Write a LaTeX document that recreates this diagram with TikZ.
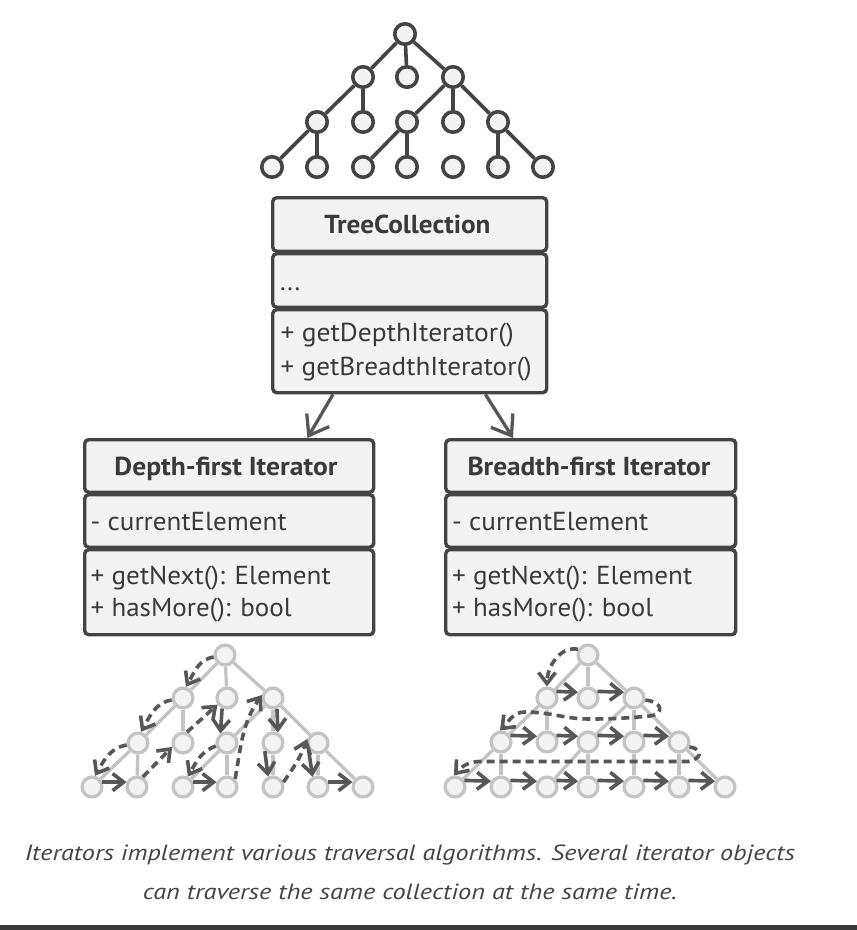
\documentclass[tikz,border=0pt]{standalone}
\usepackage{fontspec}
\setmainfont{PT Sans}
\usetikzlibrary{arrows.meta,calc}
\definecolor{stroke}{HTML}{444444}
\definecolor{boxfill}{HTML}{F3F3F3}
\definecolor{txt}{HTML}{3A3A3A}
\definecolor{lgray}{HTML}{C4C4C4}
\definecolor{arr}{HTML}{575757}
\definecolor{captxt}{HTML}{444444}
\definecolor{barcol}{HTML}{3A3A3A}
\newcommand\fitw[2]{\resizebox{#1}{\height}{#2}}
\tikzset{
  x=1pt,y=1pt,
  tnode/.style={circle,draw=stroke,fill=boxfill,line width=3.6pt,minimum size=20.5pt,inner sep=0pt},
  tedge/.style={draw=stroke,line width=3.6pt},
  lnode/.style={circle,draw=lgray,fill=boxfill,line width=3.3pt,minimum size=19.8pt,inner sep=0pt},
  ledge/.style={draw=lgray,line width=3.3pt},
  compart/.style={draw=stroke,fill=boxfill,line width=3.4pt,rounded corners=4pt,inner sep=0pt,anchor=north west},
  boldtxt/.style={font=\fontsize{26}{30}\selectfont\bfseries,text=txt,anchor=base,inner sep=0pt},
  regtxt/.style={font=\fontsize{26}{30}\selectfont,text=txt,anchor=base west,inner sep=0pt},
  captext/.style={font=\fontsize{22}{26}\selectfont\itshape,text=captxt,anchor=base,inner sep=0pt},
  uml/.style={draw=arr,line width=3.3pt,-{Straight Barb[length=18pt,width=26pt]}},
  travs/.style={draw=arr,line width=3.6pt,-{Straight Barb[length=11pt,width=17pt]}},
  trav/.style={travs,dash pattern=on 8pt off 5pt},
}
\begin{document}
\begin{tikzpicture}
\fill[white] (0,0) rectangle (857,-930);
\useasboundingbox (0,0) rectangle (857,-930);

% ---------- top tree ----------
\node[tnode] (t0) at (405,-34) {};
\node[tnode] (t1a) at (363,-77) {};
\node[tnode] (t1b) at (407,-77) {};
\node[tnode] (t1c) at (453,-77) {};
\node[tnode] (t2a) at (317,-122) {};
\node[tnode] (t2b) at (363,-122) {};
\node[tnode] (t2c) at (407,-122) {};
\node[tnode] (t2d) at (453,-122) {};
\node[tnode] (t2e) at (498,-122) {};
\node[tnode] (t3a) at (272,-167) {};
\node[tnode] (t3b) at (317,-167) {};
\node[tnode] (t3c) at (363,-167) {};
\node[tnode] (t3d) at (407,-167) {};
\node[tnode] (t3e) at (453,-167) {};
\node[tnode] (t3f) at (498,-167) {};
\node[tnode] (t3g) at (543,-167) {};
\foreach \a/\b in {t0/t1a,t0/t1b,t0/t1c,t1a/t2a,t1a/t2b,t1c/t2c,t1c/t2d,t1c/t2e,
  t2a/t3a,t2a/t3b,t2c/t3c,t2c/t3d,t2e/t3f,t2e/t3g}
  \draw[tedge] (\a) -- (\b);

% ---------- TreeCollection ----------
\node[compart,minimum width=274pt,minimum height=53.5pt] (tc1) at (271,-196) {};
\node[compart,minimum width=274pt,minimum height=53.5pt] (tc2) at (271,-252) {};
\node[compart,minimum width=274pt,minimum height=83pt] (tc3) at (271,-308) {};
\node[boldtxt] (tct) at (407.5,-233.3) {\fitw{166pt}{TreeCollection}};
\node[regtxt] (tca) at (280,-290) {...};
\node[regtxt] (tcm1) at (280.5,-341.7) {\fitw{233pt}{+ getDepthIterator()}};
\node[regtxt] (tcm2) at (280.5,-375) {\fitw{251pt}{+ getBreadthIterator()}};

% ---------- Depth-first Iterator ----------
\node[compart,minimum width=289pt,minimum height=52.5pt] (df1) at (83,-438) {};
\node[compart,minimum width=289pt,minimum height=52.5pt] (df2) at (83,-493) {};
\node[compart,minimum width=289pt,minimum height=85pt] (df3) at (83,-548) {};
\node[boldtxt] (dft) at (226,-475) {\fitw{223pt}{Depth-first Iterator}};
\node[regtxt] (dfa) at (90.5,-530) {\fitw{196pt}{- currentElement}};
\node[regtxt] (dfm1) at (90.5,-584) {\fitw{240pt}{+ getNext(): Element}};
\node[regtxt] (dfm2) at (90.5,-616.7) {\fitw{201pt}{+ hasMore(): bool}};

% ---------- Breadth-first Iterator ----------
\node[compart,minimum width=290pt,minimum height=52.5pt] (bf1) at (444,-438) {};
\node[compart,minimum width=290pt,minimum height=52.5pt] (bf2) at (444,-493) {};
\node[compart,minimum width=290pt,minimum height=85pt] (bf3) at (444,-548) {};
\node[boldtxt] (bft) at (589,-475) {\fitw{243pt}{Breadth-first Iterator}};
\node[regtxt] (bfa) at (452,-530) {\fitw{196pt}{- currentElement}};
\node[regtxt] (bfm1) at (452,-584) {\fitw{240pt}{+ getNext(): Element}};
\node[regtxt] (bfm2) at (452,-616.7) {\fitw{201pt}{+ hasMore(): bool}};

% ---------- UML arrows ----------
\draw[uml] ($(tc3.south west)+(62,0)$) -- ($(df1.north east)+(-68,0)$);
\draw[uml] ($(tc3.south east)+(-63,0)$) -- ($(bf1.north west)+(69,0)$);

% ---------- depth-first tree ----------
\node[lnode] (d0) at (225,-655) {};
\node[lnode] (d1a) at (183,-698) {};
\node[lnode] (d1b) at (227,-698) {};
\node[lnode] (d1c) at (273,-698) {};
\node[lnode] (d2a) at (138,-743) {};
\node[lnode] (d2b) at (183,-743) {};
\node[lnode] (d2c) at (227,-743) {};
\node[lnode] (d2d) at (273,-743) {};
\node[lnode] (d2e) at (318,-743) {};
\node[lnode] (d3a) at (92,-787) {};
\node[lnode] (d3b) at (137,-787) {};
\node[lnode] (d3c) at (183,-787) {};
\node[lnode] (d3d) at (227,-787) {};
\node[lnode] (d3e) at (273,-787) {};
\node[lnode] (d3f) at (318,-787) {};
\node[lnode] (d3g) at (363,-787) {};
\foreach \a/\b in {d0/d1a,d0/d1b,d0/d1c,d1a/d2a,d1a/d2b,d1c/d2c,d1c/d2d,d1c/d2e,
  d2a/d3a,d2a/d3b,d2c/d3c,d2c/d3d,d2d/d3e,d2e/d3f,d2e/d3g}
  \draw[ledge] (\a) -- (\b);

\draw[trav] (d0.190) to[out=190,in=60] (d1a.75);
\draw[trav] (d1a.190) to[out=190,in=60] (d2a.75);
\draw[trav] (d2a.190) to[out=190,in=60] (d3a.75);
\draw[travs] (d3a.25) -- (d3b.155);
\draw[trav] (d3b.60) -- (d2b.200);
\draw[trav] (d2b.70) -- (d1b.215);
\draw[travs] (d1b.245) -- (d2c.125);
\draw[trav] (d2c.195) to[out=200,in=60] (d3c.65);
\draw[travs] (d3c.25) -- (d3d.155);
\draw[trav] (d3d.45) to[out=80,in=235] (d1c.165);
\draw[travs] (d1c.290) -- (d2d.65);
\draw[travs] (d2d.225) -- (d3e.115);
\draw[trav] (d3e.25) to[out=55,in=250] (d2e.160);
\draw[travs] (d2e.215) -- (d3f.118);
\draw[travs] (d3f.25) -- (d3g.155);

% ---------- breadth-first tree ----------
\node[lnode] (b0) at (588,-655) {};
\node[lnode] (b1a) at (547,-698) {};
\node[lnode] (b1b) at (588,-698) {};
\node[lnode] (b1c) at (634,-698) {};
\node[lnode] (b2a) at (501,-742) {};
\node[lnode] (b2b) at (547,-742) {};
\node[lnode] (b2c) at (588,-742) {};
\node[lnode] (b2d) at (634,-742) {};
\node[lnode] (b2e) at (679,-742) {};
\node[lnode] (b3a) at (455,-787) {};
\node[lnode] (b3b) at (501,-787) {};
\node[lnode] (b3c) at (547,-787) {};
\node[lnode] (b3d) at (588,-787) {};
\node[lnode] (b3e) at (634,-787) {};
\node[lnode] (b3f) at (679,-787) {};
\node[lnode] (b3g) at (725,-787) {};
\foreach \a/\b in {b0/b1a,b0/b1b,b0/b1c,b1a/b2a,b1a/b2b,b1c/b2c,b1c/b2d,b1c/b2e,
  b2a/b3a,b2a/b3b,b2c/b3c,b2c/b3d,b2d/b3e,b2e/b3f,b2e/b3g}
  \draw[ledge] (\a) -- (\b);

\draw[trav] (b0.150) to[out=170,in=90] (b1a.90);
\foreach \a/\b in {b1a/b1b,b1b/b1c,b2a/b2b,b2b/b2c,b2c/b2d,b2d/b2e,
  b3a/b3b,b3b/b3c,b3c/b3d,b3d/b3e,b3e/b3f,b3f/b3g}
  \draw[travs] (\a.35) -- (\b.150);
\draw[trav] (b1c.350) .. controls +(18,-2) and +(14,2) .. (650,-716)
  to[out=185,in=0] (590,-719) to[out=180,in=0] (525,-712) to[out=180,in=45] (b2a.95);
\draw[trav] (b2e.335) .. controls +(16,-3) and +(12,2) .. (688,-761.5)
  to[out=180,in=0] (480,-761.5) to[out=180,in=50] (b3a.95);

% ---------- caption ----------
\node[captext] (cap1) at (410,-860) {\fitw{770pt}{Iterators implement various traversal algorithms. Several iterator objects}};
\node[captext] (cap2) at (410,-899) {\fitw{534pt}{can traverse the same collection at the same time.}};
\fill[barcol] (0,-925) rectangle (857,-930);
\end{tikzpicture}
\end{document}
